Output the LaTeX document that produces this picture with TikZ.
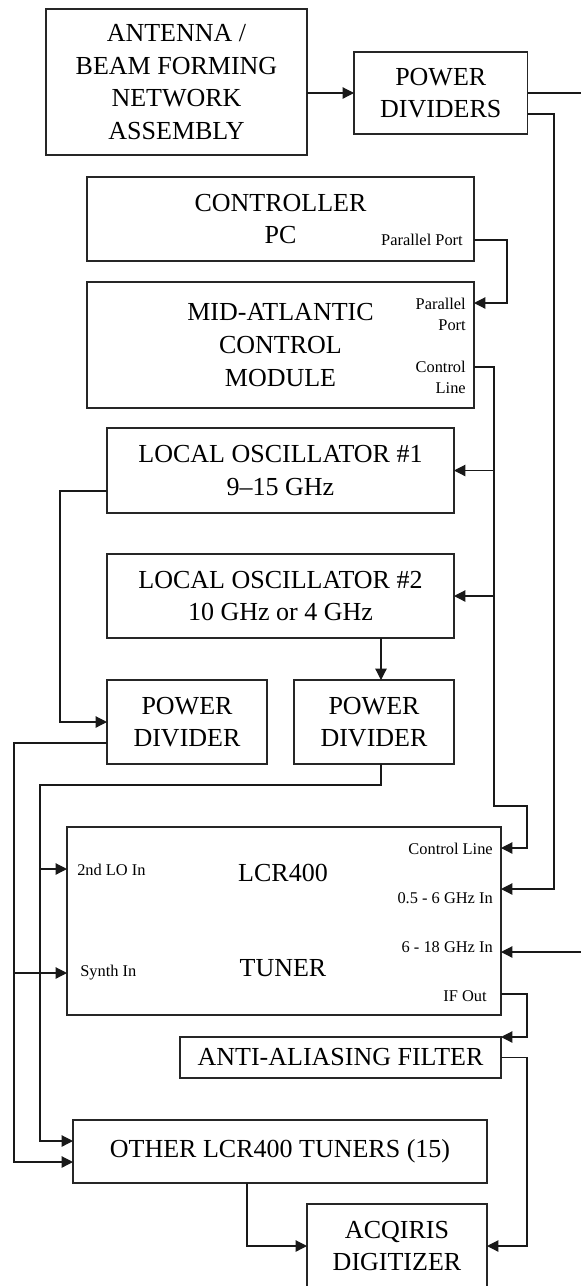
\documentclass[tikz,border=0pt]{standalone}
\usepackage{fontspec}
\setmainfont{Liberation Serif}
\usetikzlibrary{arrows.meta}
\newcommand\mybigfont{\fontsize{19.5}{24.4}\selectfont}
\newcommand\mysmallfont{\fontsize{12.3}{15.75}\selectfont}
\begin{document}
\begin{tikzpicture}[x=0.75pt,y=-0.75pt,
  box/.style={draw=black!85, line width=0.9pt, inner sep=0pt, outer sep=0pt, align=center, font=\mybigfont},
  lab/.style={inner sep=0pt, font=\mysmallfont, align=right},
  wire/.style={line width=0.9pt, draw=black!90},
  arr/.style={wire, -{Triangle[length=8.5pt,width=8.5pt]}}]
\useasboundingbox (0,0) rectangle (581,1286);
\fill[white] (0,0) rectangle (581,1286);

% boxes
\node[box, minimum width=261*0.75pt, minimum height=146*0.75pt] (ant) at (176.5,82) {ANTENNA /\\BEAM FORMING\\NETWORK\\ASSEMBLY};
\node[box, minimum width=173.5*0.75pt, minimum height=82*0.75pt] (pd) at (440.75,93) {POWER\\DIVIDERS};
\node[box, minimum width=387*0.75pt, minimum height=84*0.75pt] (ctrl) at (280.5,219) {CONTROLLER\\PC};
\node[box, minimum width=387*0.75pt, minimum height=126*0.75pt] (mac) at (280.5,345) {MID-ATLANTIC\\CONTROL\\MODULE};
\node[box, minimum width=347*0.75pt, minimum height=85*0.75pt] (lo1) at (280.5,470.5) {LOCAL OSCILLATOR \#1\\9–15 GHz};
\node[box, minimum width=347*0.75pt, minimum height=84*0.75pt] (lo2) at (280.5,596) {LOCAL OSCILLATOR \#2\\10 GHz or 4 GHz};
\node[box, minimum width=160*0.75pt, minimum height=84*0.75pt] (pdA) at (187,722) {POWER\\DIVIDER};
\node[box, minimum width=160*0.75pt, minimum height=84*0.75pt] (pdB) at (374,722) {POWER\\DIVIDER};
\node[box, minimum width=434*0.75pt, minimum height=188*0.75pt] (lcr) at (284,921) {};
\node[font=\mybigfont, inner sep=0pt] (lcrA) at (283,873) {LCR400};
\node[font=\mybigfont, inner sep=0pt] (lcrB) at (283,968) {TUNER};
\node[box, minimum width=321*0.75pt, minimum height=41*0.75pt] (aaf) at (340.5,1057.5) {ANTI-ALIASING FILTER};
\node[box, minimum width=414*0.75pt, minimum height=63*0.75pt] (oth) at (280,1151.5) {OTHER LCR400 TUNERS (15)};
\node[box, minimum width=180*0.75pt, minimum height=84*0.75pt] (acq) at (397,1246) {ACQIRIS\\DIGITIZER};

% port labels
\node[lab, anchor=east] (pp1) at (463,240) {Parallel Port};
\node[lab, anchor=east] (pp2) at (466,314.5) {Parallel\\Port};
\node[lab, anchor=east] (cl1) at (466,377.5) {Control\\Line};
\node[lab, anchor=east] (cl2) at (493,849) {Control Line};
\node[lab, anchor=east] (lowin) at (493,898) {0.5 - 6 GHz In};
\node[lab, anchor=east] (hiin) at (493,947) {6 - 18 GHz In};
\node[lab, anchor=east] (ifo) at (487,996) {IF Out};
\node[lab, anchor=west] (loin) at (77,870) {2nd LO In};
\node[lab, anchor=west] (syn) at (80,973) {Synth In};

% helper coordinates
\coordinate (outA) at (581,93);
\coordinate (inB) at (581,952);
\coordinate (cx) at (494,0);
\coordinate (dx) at (381,0);
\coordinate (rx) at (527,0);
\coordinate (ox) at (247,0);

% connectors
\draw[arr] (pd.west -| ant.east) -- (pd.west);
\draw[wire] (pd.east) -- (outA);
\draw[arr] ([yshift=-15.75pt]pd.east) -| (554,889) -- (lcr.east |- 0,889);
\draw[arr] (inB) -- (inB -| lcr.east);
\draw[arr] (ctrl.east |- 0,240) -| (507,303) -- (mac.east |- 0,303);
\draw[arr] (mac.east |- 0,367) -| (494,806) -| (527,848) -- (lcr.east |- 0,848);
\draw[arr] (cx |- lo1.east) -- (lo1.east);
\draw[arr] (cx |- lo2.east) -- (lo2.east);
\draw[arr] (lo1.west |- 0,491) -| (60,722) -- (pdA.west);
\draw[arr] (dx |- lo2.south) -- (dx |- pdB.north);
\draw[arr] (pdA.west |- 0,743) -| (14,973) -- (lcr.west |- 0,973);
\draw[arr] (14,973) |- (oth.west |- 0,1162);
\draw[arr] (dx |- pdB.south) |- (40,785) |- (lcr.west |- 0,869);
\draw[arr] (40,869) |- (oth.west |- 0,1141);
\draw[arr] (lcr.east |- 0,994) -| (527,1037) -- (aaf.north east);
\draw[arr] (aaf.east) -| (rx |- acq.east) -- (acq.east);
\draw[arr] (ox |- oth.south) |- (acq.west);
\end{tikzpicture}
\end{document}
